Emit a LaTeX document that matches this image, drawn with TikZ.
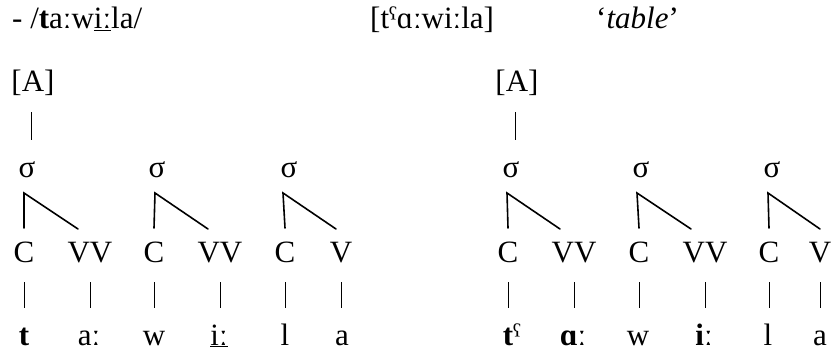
\documentclass[tikz,border=0pt]{standalone}
\usepackage{fontspec}
\setmainfont{Liberation Serif}
\begin{document}
\begin{tikzpicture}[x=1pt,y=-1pt,
  lbl/.style={inner sep=0pt, anchor=base, font=\fontsize{31}{36}\selectfont},
  seg/.style={lbl, text height=22pt, text depth=6pt},
  stem/.style={line width=1.6pt, line cap=round},
  bar/.style={line width=1pt}]
\useasboundingbox[fill=white] (0,0) rectangle (832,353);

% header line
\node[lbl, anchor=base west] (h1) at (12,29) {- /\textbf{t}aːw\underline{iː}la/};
\node[lbl, anchor=base west] (h2) at (370,29) {[tˤɑːwiːla]};
\node[lbl, anchor=base west] (h3) at (596,29) {‘\textit{table}’};

% ---------- left tree ----------
\node[lbl] (A1) at (33,92) {[A]};
\node[lbl] (s1) at (27,177) {σ};
\node[lbl] (s2) at (157,177) {σ};
\node[lbl] (s3) at (289,177) {σ};

\node[seg] (c1) at (24,262) {C};
\node[seg] (v1) at (90,262) {VV};
\node[seg] (c2) at (154,262) {C};
\node[seg] (v2) at (220,262) {VV};
\node[seg] (c3) at (285,262) {C};
\node[seg] (v3) at (341,262) {V};

\node[seg] (b1) at (24,345) {\textbf{t}};
\node[seg] (b2) at (89,345) {aː};
\node[seg] (b3) at (154,345) {w};
\node[seg] (b4) at (219,345) {\underline{iː}};
\node[seg] (b5) at (285,345) {l};
\node[seg] (b6) at (342,345) {a};

% ---------- right tree ----------
\node[lbl] (A2) at (517,92) {[A]};
\node[lbl] (r1) at (511,177) {σ};
\node[lbl] (r2) at (641,177) {σ};
\node[lbl] (r3) at (772,177) {σ};

\node[seg] (d1) at (508,262) {C};
\node[seg] (w1) at (574,262) {VV};
\node[seg] (d2) at (639,262) {C};
\node[seg] (w2) at (705,262) {VV};
\node[seg] (d3) at (769,262) {C};
\node[seg] (w3) at (820,262) {V};

\node[seg] (q1) at (508,345) {\textbf{t}\rlap{ˤ}};
\node[seg] (q2) at (573,345) {\textbf{ɑː}};
\node[seg] (q3) at (638,345) {w};
\node[seg] (q4) at (704,345) {\textbf{iː}};
\node[seg] (q5) at (768,345) {l};
\node[seg] (q6) at (820,345) {a};

% [A] to sigma
\coordinate (t1) at (31,112); \coordinate (u1) at (31,140);
\coordinate (t2) at (515,112); \coordinate (u2) at (515,140);
\draw[bar] (t1) -- (u1);
\draw[bar] (t2) -- (u2);

% syllable apexes and diagonal ends
\coordinate (p1) at (24,193);  \coordinate (e1) at (78,229);
\coordinate (p2) at (155,193); \coordinate (e2) at (208,229);
\coordinate (p3) at (283,193); \coordinate (e3) at (336,229);
\coordinate (p4) at (507,193); \coordinate (e4) at (560,229);
\coordinate (p5) at (637,193); \coordinate (e5) at (691,229);
\coordinate (p6) at (768,193); \coordinate (e6) at (820,229);

\foreach \p/\c/\e in {p1/c1/e1,p2/c2/e2,p3/c3/e3,p4/d1/e4,p5/d2/e5,p6/d3/e6}{
  \draw[stem] (\c.north |- {0,228}) -- (\p) -- (\e);
}

% segment to melody bars
\foreach \u/\l in {c1/b1,v1/b2,c2/b3,v2/b4,c3/b5,v3/b6,d1/q1,w1/q2,d2/q3,w2/q4,d3/q5,w3/q6}{
  \draw[bar, shorten <=14pt, shorten >=15pt] (\u.south) -- (\u.south |- \l.north);
}
\end{tikzpicture}
\end{document}
